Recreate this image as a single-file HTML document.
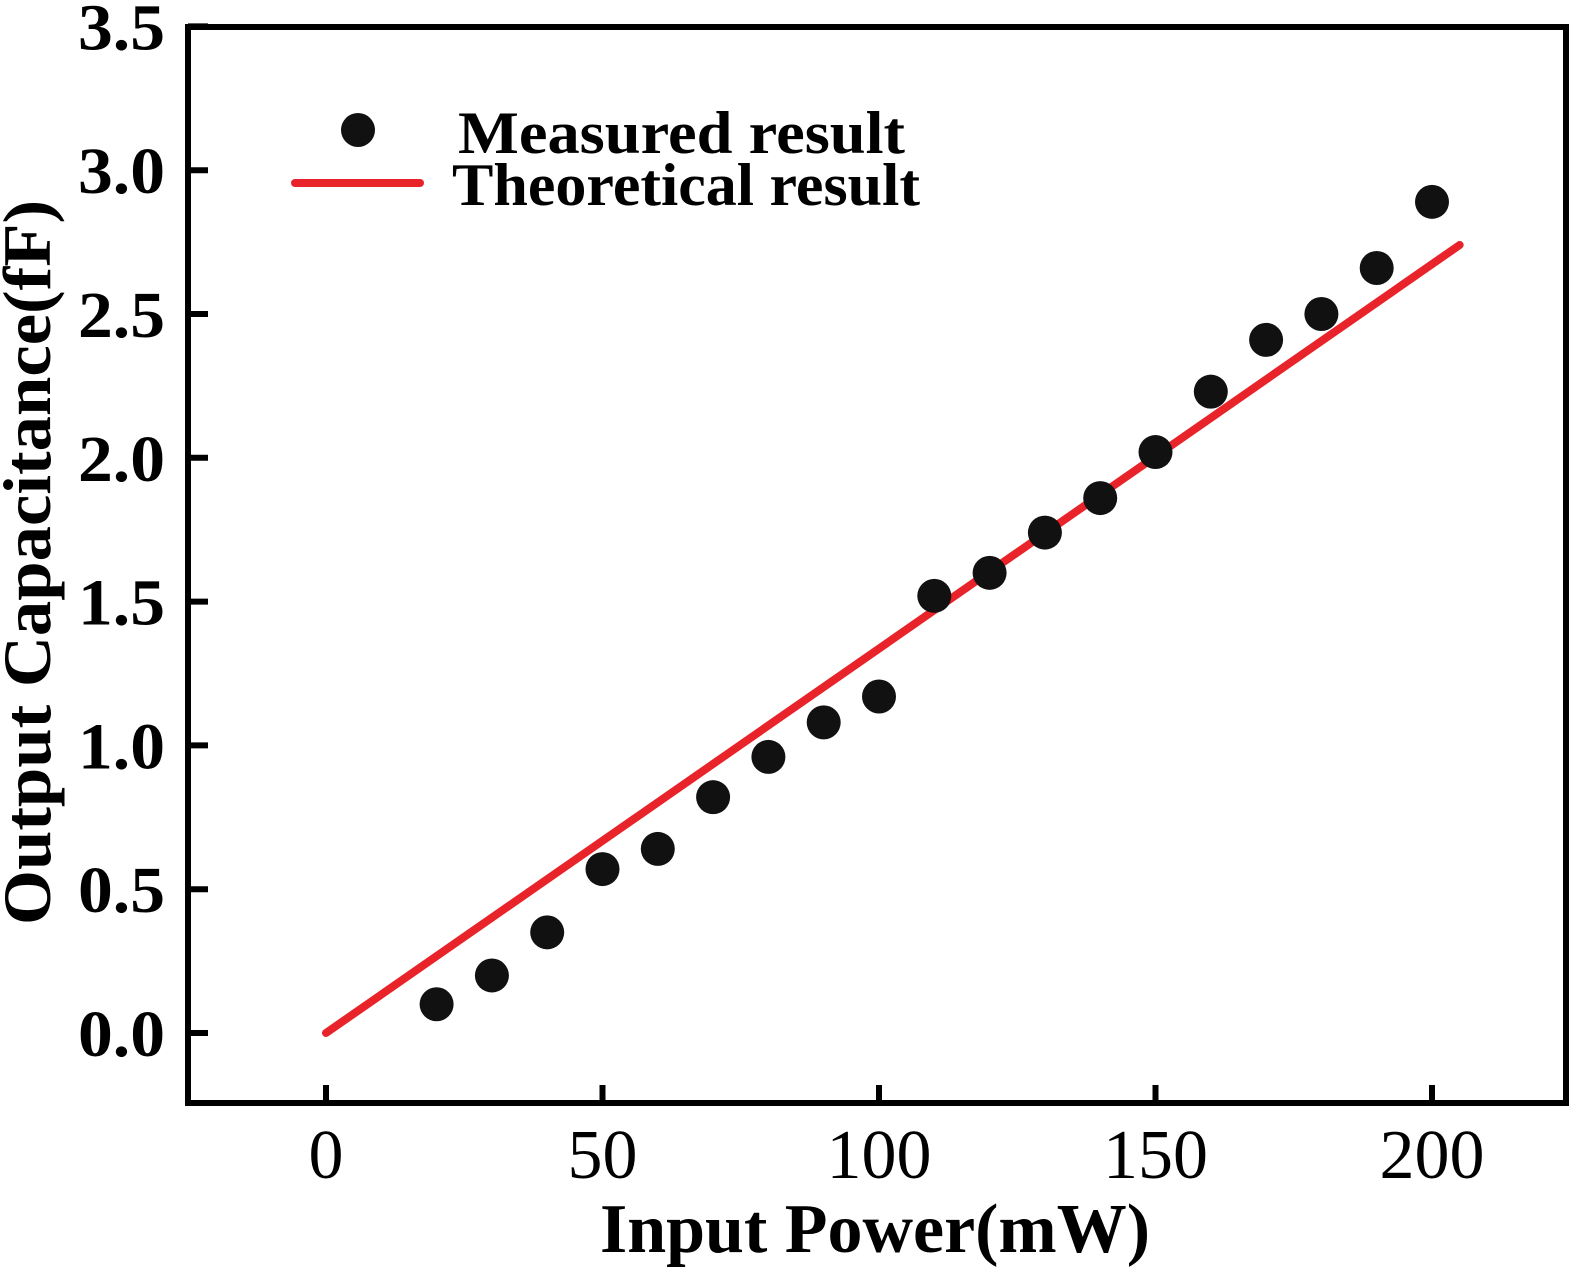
<!DOCTYPE html>
<html><head><meta charset="utf-8"><style>
html,body{margin:0;padding:0;background:#fff;}
svg{display:block;font-family:"Liberation Serif",serif;}
</style></head><body>
<svg id="chart" width="1575" height="1273" viewBox="0 0 1575 1273">
<g id="marks"></g>
<rect x="188" y="27" width="1378" height="1076" fill="none" stroke="#000" stroke-width="6"/>
<g id="axes"></g>
<g>
<circle cx="358" cy="130" r="17" fill="#111"/>
<text x="458" y="153" font-size="60" font-weight="bold" textLength="447" lengthAdjust="spacingAndGlyphs">Measured result</text>
<line x1="295" y1="183" x2="420" y2="183" stroke="#e8232a" stroke-width="8" stroke-linecap="round"/>
<text x="452" y="205" font-size="60" font-weight="bold" textLength="468" lengthAdjust="spacingAndGlyphs">Theoretical result</text>
</g>
<text x="600" y="1252" font-size="70" font-weight="bold" textLength="550" lengthAdjust="spacingAndGlyphs">Input Power(mW)</text>
<text transform="translate(50,925) rotate(-90)" font-size="68" font-weight="bold" textLength="725" lengthAdjust="spacingAndGlyphs">Output Capacitance(fF)</text>
</svg>
<script>
const measuredX=[20,30,40,50,60,70,80,90,100,110,120,130,140,150,160,170,180,190,200];
const measuredY=[0.10,0.20,0.35,0.57,0.64,0.82,0.96,1.08,1.17,1.52,1.60,1.74,1.86,2.02,2.23,2.41,2.50,2.66,2.89];
const theoryX=[0,205];
const theoryY=[0,2.74];
const xTicks=[0,50,100,150,200];
const yTicks=[0.0,0.5,1.0,1.5,2.0,2.5,3.0,3.5];
const NS="http://www.w3.org/2000/svg";
function sx(v){return 326+v*5.53;}
function sy(v){return 1033-v*287.6;}
const marks=document.getElementById('marks');
const axes=document.getElementById('axes');
const tl=document.createElementNS(NS,'line');
tl.setAttribute('x1',sx(theoryX[0]));tl.setAttribute('y1',sy(theoryY[0]));
tl.setAttribute('x2',sx(theoryX[1]));tl.setAttribute('y2',sy(theoryY[1]));
tl.setAttribute('stroke','#e8232a');tl.setAttribute('stroke-width','8');tl.setAttribute('stroke-linecap','round');


marks.appendChild(tl);
measuredX.forEach((x,i)=>{
const c=document.createElementNS(NS,'circle');
c.setAttribute('cx',sx(x));c.setAttribute('cy',sy(measuredY[i]));c.setAttribute('r','17');c.setAttribute('fill','#111');


marks.appendChild(c);
});
xTicks.forEach(v=>{
const l=document.createElementNS(NS,'line');
l.setAttribute('x1',sx(v));l.setAttribute('x2',sx(v));l.setAttribute('y1',1103);l.setAttribute('y2',1085);
l.setAttribute('stroke','#000');l.setAttribute('stroke-width','6');


axes.appendChild(l);
const t=document.createElementNS(NS,'text');
t.setAttribute('x',sx(v));t.setAttribute('y',1178);t.setAttribute('font-size','70');t.setAttribute('text-anchor','middle');
t.textContent=String(v);


axes.appendChild(t);
});
yTicks.forEach(v=>{
const l=document.createElementNS(NS,'line');
l.setAttribute('x1',188);l.setAttribute('x2',208);l.setAttribute('y1',sy(v));l.setAttribute('y2',sy(v));
l.setAttribute('stroke','#000');l.setAttribute('stroke-width','6');


axes.appendChild(l);
const t=document.createElementNS(NS,'text');
t.setAttribute('x',78);t.setAttribute('y',sy(v)+23);t.setAttribute('font-size','66');t.setAttribute('font-weight','bold');
t.setAttribute('textLength','87');t.setAttribute('lengthAdjust','spacingAndGlyphs');
t.textContent=v.toFixed(1);


axes.appendChild(t);
});
</script>
</body></html>
